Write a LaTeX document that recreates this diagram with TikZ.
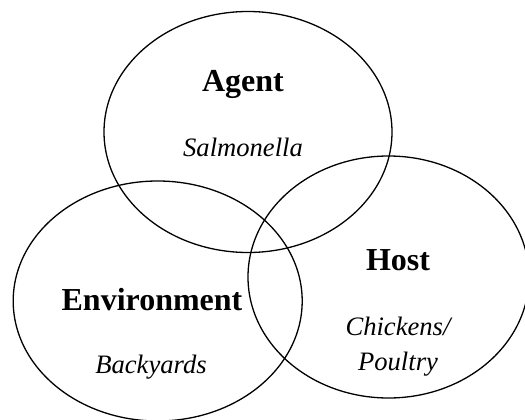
\documentclass[tikz,border=0pt]{standalone}
\usepackage{fontspec}
\setmainfont{Liberation Serif}
\usetikzlibrary{shapes.geometric}
\begin{document}
\begin{tikzpicture}[x=1pt,y=-1pt,
  circ/.style={ellipse,draw=black,line width=1.3pt,inner sep=0pt},
  title/.style={anchor=base,font=\fontsize{32}{36}\selectfont\bfseries},
  sub/.style={anchor=base,font=\fontsize{26.6}{36}\selectfont\itshape}]
\useasboundingbox (0,0) rectangle (525,420);
% the three overlapping sets
\node[circ,minimum width=288pt,minimum height=241pt] (agent) at (248,132) {};
\node[circ,minimum width=289pt,minimum height=240pt] (env) at (157.7,301) {};
\node[circ,minimum width=281pt,minimum height=242pt] (host) at (388.5,277) {};
% labels
\node[title] (agentT) at (243,92) {Agent};
\node[sub] (agentS) at (243,156) {Salmonella};
\node[title] (envT) at (152,310) {Environment};
\node[sub] (envS) at (151,373) {Backyards};
\node[title] (hostT) at (398,270.5) {Host};
\node[sub] (hostS1) at (398,335) {Chickens/};
\node[sub] (hostS2) at (398,370) {Poultry};
\end{tikzpicture}
\end{document}
